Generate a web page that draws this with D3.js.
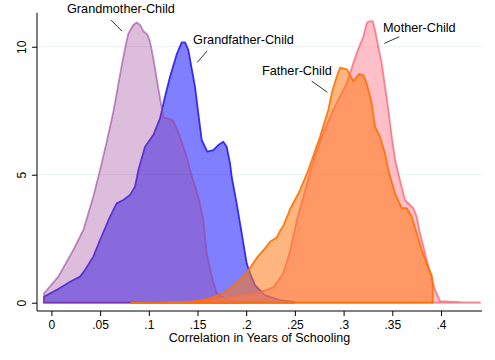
<!DOCTYPE html>
<html>
<head>
<meta charset="utf-8">
<script src="https://cdn.jsdelivr.net/npm/d3@7"></script>
<style>
  html, body { margin: 0; padding: 0; background: #fff; }
  svg { display: block; font-family: "Liberation Sans", Arial, Helvetica, sans-serif; }
</style>
</head>
<body>
<div id="chart"></div>
<script>
/* Kernel density estimates: [correlation, density] */
var grandmotherChild = [
  [-0.0075, 0], [-0.0075, 0.37], [0.0071, 1.02], [0.0225, 2.06], [0.0328, 2.84], [0.043, 4.14],
  [0.0499, 5.18], [0.0568, 6.29], [0.0636, 7.46], [0.0704, 8.89], [0.0756, 9.94], [0.079, 10.52],
  [0.0841, 10.85], [0.0876, 10.95], [0.091, 10.85], [0.0944, 10.61], [0.0985, 10.48], [0.1012, 10.2],
  [0.1046, 9.55], [0.108, 8.77], [0.1115, 7.98], [0.1149, 7.25], [0.1252, 7.11], [0.132, 6.48],
  [0.1389, 5.7], [0.1423, 5.18], [0.1508, 4.14], [0.156, 3.23], [0.1594, 1.93], [0.1646, 1.02],
  [0.1697, 0.37], [0.18, 0.12], [0.19, 0.05], [0.2, 0.01], [0.2, 0]
];
var grandfatherChild = [
  [-0.0076, 0], [-0.0076, 0.23], [0.0054, 0.5], [0.0191, 0.82], [0.0294, 1.02], [0.0345, 1.28],
  [0.043, 1.8], [0.0499, 2.45], [0.0602, 3.36], [0.067, 3.88], [0.0738, 4.01], [0.0807, 4.21],
  [0.0858, 4.53], [0.0893, 5.18], [0.0961, 6.09], [0.1046, 6.55], [0.1115, 7.2], [0.1166, 8.05],
  [0.1218, 8.83], [0.1286, 9.7], [0.1338, 10.17], [0.1372, 10.17], [0.1406, 9.87], [0.144, 9.15],
  [0.1474, 8.44], [0.1508, 7.4], [0.1543, 6.36], [0.16, 5.9], [0.1662, 5.96], [0.1714, 6.16],
  [0.1765, 6.29], [0.18, 6.09], [0.1834, 5.44], [0.1851, 4.92], [0.1902, 3.88], [0.1954, 2.71],
  [0.2005, 1.54], [0.2039, 1.15], [0.209, 0.69], [0.219, 0.3], [0.235, 0.1], [0.25, 0.02], [0.25, 0]
];
var motherChild = [
  [0.12, 0], [0.156, 0.08], [0.1868, 0.23], [0.2073, 0.33], [0.221, 0.5], [0.2278, 0.6],
  [0.2346, 0.95], [0.2381, 1.15], [0.245, 2.0], [0.2525, 3.3], [0.2621, 4.6], [0.2672, 5.3],
  [0.2775, 6.48], [0.2894, 7.53], [0.3032, 8.57], [0.3066, 8.96], [0.31, 9.35], [0.3134, 9.74],
  [0.3168, 10.07], [0.3203, 10.39], [0.3237, 10.91], [0.3254, 10.98], [0.3299, 11.0], [0.3322, 10.65],
  [0.3356, 10.0], [0.3391, 9.35], [0.3425, 8.44], [0.3459, 7.53], [0.3494, 6.48], [0.3528, 5.6],
  [0.3545, 5.31], [0.3586, 4.66], [0.363, 4.01], [0.3716, 3.69], [0.375, 3.36], [0.3784, 2.71],
  [0.3836, 1.93], [0.3887, 1.15], [0.3938, 0.5], [0.399, 0.06], [0.42, 0.02], [0.44, 0.01], [0.44, 0]
];
var fatherChild = [
  [0.082, 0], [0.1457, 0.04], [0.1628, 0.17], [0.1765, 0.37], [0.1902, 0.76], [0.2005, 1.15],
  [0.2073, 1.55], [0.2108, 1.75], [0.221, 2.2], [0.2244, 2.38], [0.2313, 2.55], [0.2347, 2.8],
  [0.2381, 3.0], [0.245, 3.65], [0.2553, 4.4], [0.2638, 5.18], [0.2758, 6.48], [0.2843, 7.53],
  [0.2878, 8.18], [0.2929, 8.83], [0.2963, 9.18], [0.3032, 9.12], [0.31, 8.65], [0.3158, 8.93],
  [0.3203, 8.89], [0.3237, 8.57], [0.3288, 7.79], [0.3322, 6.88], [0.3373, 6.49], [0.3425, 5.83],
  [0.3459, 5.18], [0.3528, 4.27], [0.3597, 3.69], [0.3648, 3.69], [0.3699, 3.36], [0.375, 2.71],
  [0.3802, 2.06], [0.3853, 1.54], [0.3905, 1.08], [0.3915, 0.76], [0.3915, 0]
];

var xTicks = [0, 0.05, 0.1, 0.15, 0.2, 0.25, 0.3, 0.35, 0.4];
var xTickLabels = ['0', '.05', '.1', '.15', '.2', '.25', '.3', '.35', '.4'];
var yTicks = [0, 5, 10];
var xTitle = 'Correlation in Years of Schooling';

/* Series labels: text, label anchor, leader line start/end (data units) */
var seriesLabels = ['Grandmother-Child', 'Grandfather-Child', 'Mother-Child', 'Father-Child'];
var labelAnchors = [[0.016, 11.3], [0.1454, 10.09], [0.3405, 10.59], [0.2162, 8.89]];
var leaderLines = [
  [[0.0612, 11.04], [0.0725, 10.61]],
  [[0.16, 9.84], [0.1498, 9.39]],
  [[0.3572, 10.39], [0.3418, 10.13]],
  [[0.2672, 8.66], [0.2833, 8.22]]
];

var W = 495, H = 360;
var m = { top: 12.7, right: 13, bottom: 49, left: 37 };

var x = d3.scaleLinear().domain([-0.0148, 0.4421]).range([m.left, W - m.right]);
var y = d3.scaleLinear().domain([-0.324, 11.33]).range([H - m.bottom, m.top]);

var svg = d3.select('#chart').append('svg')
  .attr('width', W)
  .attr('height', H);

svg.append('rect').attr('width', W).attr('height', H).attr('fill', '#fff');

/* Grid lines */
svg.append('g')
  .selectAll('line')
  .data(yTicks)
  .join('line')
  .attr('x1', x.range()[0]).attr('x2', x.range()[1])
  .attr('y1', function (d) { return y(d); })
  .attr('y2', function (d) { return y(d); })
  .attr('stroke', '#eaf2f3')
  .attr('stroke-width', 1);

/* Density areas, drawn in this order */
var layers = [
  { data: grandfatherChild, fill: '#0000ff', fo: 0.5, stroke: '#2a1cf0', so: 0.9 },
  { data: grandmotherChild, fill: '#9a459a', fo: 0.35, stroke: '#9a459a', so: 0.6 },
  { data: motherChild, fill: '#ff8091', fo: 0.5, stroke: '#ff6070', so: 0.75 },
  { data: fatherChild, fill: '#ff7814', fo: 0.55, stroke: '#ff7000', so: 0.9 }
];

var area = d3.area()
  .x(function (d) { return x(d[0]); })
  .y0(y(0))
  .y1(function (d) { return y(d[1]); });

svg.append('g')
  .selectAll('path')
  .data(layers)
  .join('path')
  .attr('d', function (d) { return area(d.data) + 'Z'; })
  .attr('fill', function (d) { return d.fill; })
  .attr('fill-opacity', function (d) { return d.fo; })
  .attr('stroke', function (d) { return d.stroke; })
  .attr('stroke-opacity', function (d) { return d.so; })
  .attr('stroke-width', 1.8)
  .attr('stroke-linejoin', 'round');

/* Axes */
var xAxis = svg.append('g')
  .attr('transform', 'translate(0,' + (H - m.bottom) + ')')
  .call(d3.axisBottom(x).tickValues(xTicks).tickSize(5).tickPadding(4)
    .tickFormat(function (d, i) { return xTickLabels[i]; }));

var yAxis = svg.append('g')
  .attr('transform', 'translate(' + m.left + ',0)')
  .call(d3.axisLeft(y).tickValues(yTicks).tickSize(5).tickPadding(0));

svg.selectAll('.domain').attr('stroke', '#000').attr('stroke-width', 1)
  .attr('d', null);
xAxis.select('.domain').attr('d', 'M' + x.range()[0] + ',0H' + x.range()[1]);
yAxis.select('.domain').attr('d', 'M0,' + y.range()[0] + 'V' + y.range()[1]);
svg.selectAll('.tick line').attr('stroke', '#000');

xAxis.selectAll('text')
  .attr('fill', '#000')
  .attr('font-size', 12)
  .attr('font-family', '"Liberation Sans", Arial, sans-serif');

yAxis.selectAll('.tick text')
  .attr('fill', '#000')
  .attr('font-size', 12)
  .attr('font-family', '"Liberation Sans", Arial, sans-serif')
  .attr('text-anchor', 'middle')
  .attr('x', null).attr('dy', null)
  .attr('transform', 'translate(-10.7,0) rotate(-90)');

/* Axis title */
svg.append('text')
  .attr('x', (x.range()[0] + x.range()[1]) / 2)
  .attr('y', 342)
  .attr('text-anchor', 'middle')
  .attr('font-size', 12.5)
  .attr('fill', '#000')
  .text(xTitle);

/* Series labels with leader lines */
var lab = svg.append('g');
lab.selectAll('line')
  .data(leaderLines)
  .join('line')
  .attr('x1', function (d) { return x(d[0][0]); })
  .attr('y1', function (d) { return y(d[0][1]); })
  .attr('x2', function (d) { return x(d[1][0]); })
  .attr('y2', function (d) { return y(d[1][1]); })
  .attr('stroke', '#000')
  .attr('stroke-width', 0.8);

lab.selectAll('text')
  .data(seriesLabels)
  .join('text')
  .attr('x', function (d, i) { return x(labelAnchors[i][0]); })
  .attr('y', function (d, i) { return y(labelAnchors[i][1]); })
  .attr('font-size', 12.7)
  .attr('fill', '#000')
  .text(function (d) { return d; });
</script>
</body>
</html>
